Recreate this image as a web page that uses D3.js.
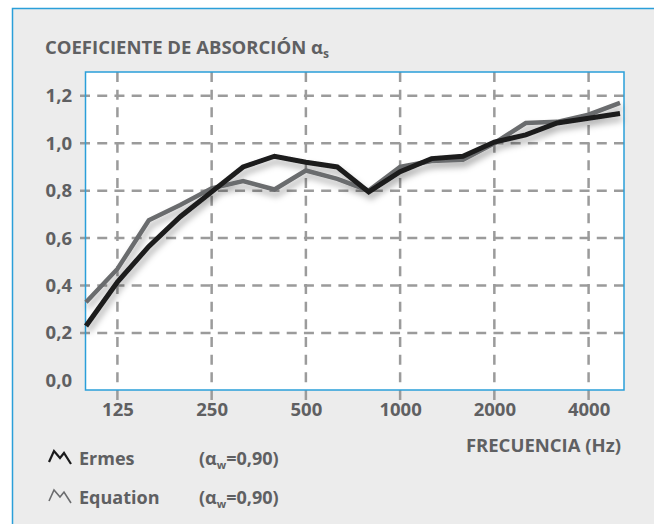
<!DOCTYPE html>
<html>
<head>
<meta charset="utf-8">
<script src="https://cdnjs.cloudflare.com/ajax/libs/d3/7.8.5/d3.min.js"></script>
<title>coeficiente de absorcion</title>
<style>
  body { margin: 0; background: #fff; }
  text { font-family: "Open Sans", sans-serif; font-weight: 700; fill: #5f6062; }
</style>
</head>
<body>
<script>
// bandas de tercio de octava (Hz)
var bandas = ["100","125","160","200","250","315","400","500","630","800","1000","1250","1600","2000","2500","3150","4000","5000"];
var etiquetasX = ["125","250","500","1000","2000","4000"];
var ticksY = [0, 0.2, 0.4, 0.6, 0.8, 1.0, 1.2];

var ermes    = [0.23, 0.415, 0.565, 0.69, 0.795, 0.90, 0.945, 0.92, 0.90, 0.795, 0.88, 0.935, 0.945, 1.005, 1.035, 1.085, 1.105, 1.125];
var equation = [0.33, 0.47, 0.675, 0.74, 0.81, 0.84, 0.805, 0.885, 0.85, 0.80, 0.90, 0.925, 0.93, 1.00, 1.085, 1.09, 1.12, 1.17];

var nombres = ["Ermes", "Equation"];
var alfaW = ["0,90", "0,90"];

var colores = ["#1b1b1c", "#6b6c6e"];
var azul = "#2a9fd9";

var W = 654, H = 524;
var izq = 86, der = 624, arriba = 72, abajo = 390;

var svg = d3.select("body").append("svg")
  .attr("width", W).attr("height", H);

var defs = svg.append("defs");
defs.append("filter").attr("id", "sombra")
  .attr("x", "-10%").attr("y", "-10%").attr("width", "130%").attr("height", "140%")
  .append("feDropShadow")
  .attr("dx", 2).attr("dy", 5).attr("stdDeviation", 3)
  .attr("flood-color", "#000").attr("flood-opacity", 0.3);

// marco exterior
svg.append("rect")
  .attr("x", 12.5).attr("y", 8.5).attr("width", 700).attr("height", 600)
  .attr("fill", "#ececec").attr("stroke", azul).attr("stroke-width", 1.5);

var x = d3.scalePoint().domain(bandas).range([izq, 620]);
var y = d3.scaleLinear().domain([-0.04, 1.3]).range([abajo, arriba]);

svg.append("rect")
  .attr("x", izq - 0.5).attr("y", arriba).attr("width", der - izq + 0.5).attr("height", abajo - arriba)
  .attr("fill", "#fff");

// rejilla punteada
function guiones(largo, d, n) {
  var g = (largo - n * d) / (n - 1);
  return d + "," + g;
}
svg.append("g").selectAll("line").data(etiquetasX).enter().append("line")
  .attr("x1", function(d) { return x(d); }).attr("x2", function(d) { return x(d); })
  .attr("y1", arriba).attr("y2", abajo + 10)
  .attr("stroke", "#9b9b9b").attr("stroke-width", 2.5)
  .attr("stroke-dasharray", guiones(abajo + 10 - arriba, 10, 19));

svg.append("g").selectAll("line").data(ticksY.filter(function(d) { return d > 0; })).enter().append("line")
  .attr("x1", 80).attr("x2", der)
  .attr("y1", function(d) { return y(d); }).attr("y2", function(d) { return y(d); })
  .attr("stroke", "#9b9b9b").attr("stroke-width", 2.5)
  .attr("stroke-dasharray", guiones(der - 80, 10, 32));

svg.append("rect")
  .attr("x", izq - 0.5).attr("y", arriba).attr("width", der - izq + 0.5).attr("height", abajo - arriba)
  .attr("fill", "none").attr("stroke", azul).attr("stroke-width", 1.5);

// ejes
var fmt = function(d) { return d.toFixed(1).replace(".", ","); };
var ejeY = svg.append("g").attr("transform", "translate(80,0)")
  .call(d3.axisLeft(y).tickValues(ticksY).tickSize(0).tickPadding(8).tickFormat(fmt));
ejeY.select(".domain").remove();
ejeY.selectAll("text").style("font-size", "18.5px");

var ejeX = svg.append("g").attr("transform", "translate(0," + abajo + ")")
  .call(d3.axisBottom(x).tickValues(etiquetasX).tickSize(0).tickPadding(13));
ejeX.select(".domain").remove();
ejeX.selectAll("text").style("font-size", "18.5px");

// lineas
var linea = d3.line()
  .x(function(d, i) { return x(bandas[i]); })
  .y(function(d) { return y(d); });

var grupo = svg.append("g").attr("filter", "url(#sombra)");
[equation, ermes].forEach(function(serie, k) {
  grupo.append("path").datum(serie)
    .attr("d", linea)
    .attr("fill", "none")
    .attr("stroke", k == 0 ? colores[1] : colores[0])
    .attr("stroke-width", k == 0 ? 4.5 : 5)
    .attr("stroke-linejoin", "miter");
});

// titulo
var titulo = svg.append("text").attr("x", 45).attr("y", 54).style("font-size", "18.5px");
titulo.append("tspan").text("COEFICIENTE DE ABSORCIÓN α");
titulo.append("tspan").attr("dy", 4).style("font-size", "12px").text("s");

svg.append("text").attr("x", 621).attr("y", 452).attr("text-anchor", "end")
  .style("font-size", "18.5px").text("FRECUENCIA (Hz)");

// leyenda
var filas = [459, 498];
nombres.forEach(function(n, i) {
  var cy = filas[i];
  svg.append("path")
    .attr("d", "M49," + (cy + 3) + "L54," + (cy - 8) + "L60," + (cy - 1) + "L64," + (cy - 6) + "L71," + (cy + 5))
    .attr("fill", "none").attr("stroke", colores[i]).attr("stroke-width", i == 0 ? 2.2 : 1.6);
  svg.append("text").attr("x", 79).attr("y", cy + 6).style("font-size", "18px").text(n);
  var t = svg.append("text").attr("x", 199).attr("y", cy + 6).style("font-size", "18px");
  t.append("tspan").text("(α");
  t.append("tspan").attr("dy", 4).style("font-size", "11px").text("w");
  t.append("tspan").attr("dy", -4).text("=" + alfaW[i] + ")");
});
</script>
</body>
</html>
